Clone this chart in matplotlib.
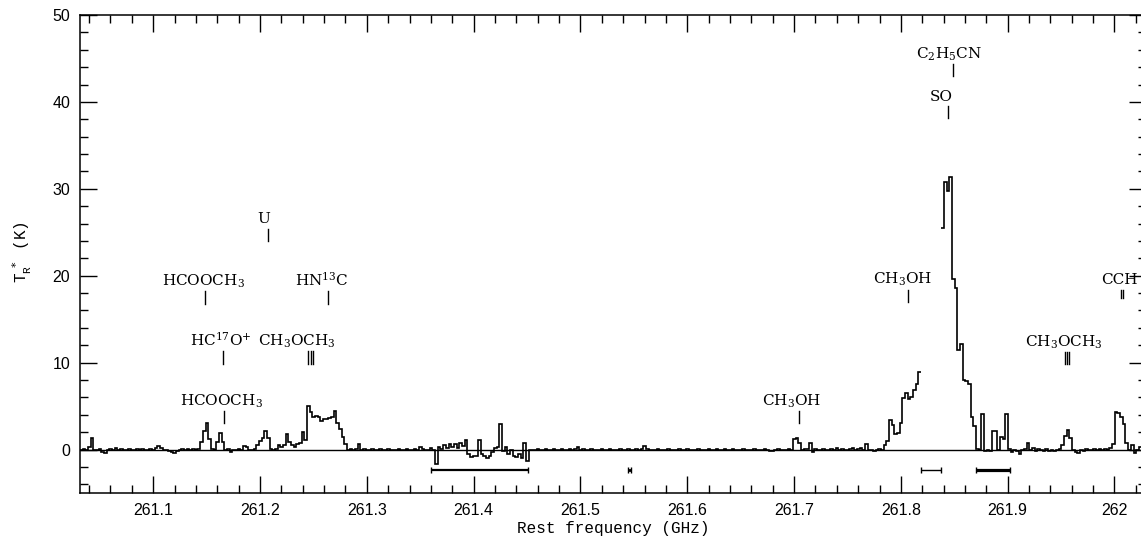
import numpy as np
import matplotlib
matplotlib.use("Agg")
import matplotlib.pyplot as plt
from matplotlib.ticker import MultipleLocator, FuncFormatter

# ---------------------------------------------------------------------------
# Spectrum data: two sub-bands sampled on 2.5 MHz channels (T_R* in K)
# ---------------------------------------------------------------------------
chan_width = 0.0025          # GHz
band1_start = 261.0315       # GHz, left edge of first channel
band2_start = 261.8378       # GHz

band1_temp = [
    0.0, 0.1, -0.1, 0.3, 1.3, 0.0, -0.1, 0.1, -0.3, -0.4,
    -0.1, 0.1, 0.0, 0.2, 0.0, 0.1, -0.1, 0.0, 0.1, 0.0,
    -0.1, 0.1, 0.0, 0.1, -0.1, 0.0, 0.1, -0.1, 0.2, 0.4,
    0.2, 0.0, -0.1, -0.2, -0.3, -0.4, -0.2, 0.0, 0.1, -0.1,
    0.1, 0.0, 0.1, 0.0, 0.1, 0.9, 2.1, 3.1, 1.2, 0.1,
    0.0, 0.9, 1.9, 0.9, 0.0, 0.1, -0.3, 0.0, -0.1, 0.1,
    0.0, 0.4, 0.3, 0.0, -0.1, 0.1, 0.5, 1.0, 1.3, 2.1,
    1.3, 0.1, 0.0, 0.1, 0.5, 0.3, 0.5, 1.8, 0.9, 0.5,
    0.3, 0.6, 0.8, 2.0, 1.1, 5.0, 4.3, 3.7, 3.9, 3.8,
    3.3, 3.5, 3.5, 3.6, 3.8, 4.4, 3.0, 2.4, 1.5, 0.6,
    0.0, 0.1, -0.1, 0.1, 0.6, 0.0, 0.1, -0.1, 0.0, 0.1,
    -0.1, 0.0, 0.1, 0.0, -0.1, 0.1, 0.0, -0.1, 0.0, 0.1,
    0.0, -0.1, 0.1, 0.0, 0.0, 0.1, 0.0, 0.3, 0.1, -0.1,
    0.0, 0.2, -0.1, -1.7, 0.3, 0.1, 0.5, 0.2, 0.6, 0.3,
    0.6, 0.2, 0.7, 0.4, 1.1, -0.5, -0.9, -0.8, -0.8, 1.1,
    -0.5, -0.8, -1.0, -0.8, -0.3, 0.2, 0.3, 2.9, -0.2, 0.3,
    -0.5, 0.0, -0.7, -0.9, -0.5, -1.0, 0.8, -1.3, 0.0, -0.1,
    0.0, 0.1, -0.1, 0.0, 0.1, 0.0, -0.1, 0.1, 0.0, 0.0,
    0.1, -0.1, 0.0, 0.1, 0.0, 0.1, 0.3, 0.0, 0.1, -0.1,
    0.0, 0.1, 0.0, -0.1, 0.0, 0.1, -0.1, 0.0, 0.1, 0.0,
    -0.1, 0.0, 0.1, 0.0, -0.1, 0.1, 0.0, 0.0, 0.1, -0.1,
    0.1, 0.4, 0.1, 0.0, -0.1, 0.0, 0.1, 0.0, -0.1, 0.0,
    0.1, 0.0, -0.1, 0.0, 0.1, -0.1, 0.0, 0.1, 0.0, -0.1,
    0.0, 0.1, 0.0, -0.1, 0.0, 0.1, 0.0, -0.1, 0.1, 0.0,
    0.0, 0.1, -0.1, 0.0, 0.1, 0.0, -0.1, 0.0, 0.1, 0.0,
    -0.1, 0.0, 0.1, 0.0, -0.1, 0.0, 0.1, -0.1, -0.2, -0.2,
    0.0, 0.1, 0.0, -0.1, 0.0, 0.1, 0.0, 1.2, 1.3, 0.7,
    0.0, 0.1, 0.1, 0.7, -0.3, 0.1, 0.0, -0.1, 0.1, 0.0,
    -0.1, 0.1, 0.0, 0.2, 0.0, 0.1, 0.0, -0.1, 0.1, 0.2,
    0.0, 0.1, 0.2, 0.0, 0.6, 0.0, -0.1, -0.2, 0.0, 0.1,
    -0.1, 0.5, 1.0, 3.4, 2.8, 1.8, 1.9, 3.0, 5.9, 6.5,
    5.8, 6.1, 6.8, 7.5, 8.9,
]

band2_temp = [
    25.5, 30.8, 29.8, 31.4, 19.6, 18.6, 11.5, 12.1, 8.0, 7.9,
    7.5, 3.7, 2.7, 0.1, -0.1, 4.1, -0.2, -0.1, -0.2, 2.1,
    2.1, 0.0, 1.5, 1.2, 4.1, 0.1, -0.3, 0.0, -0.2, -0.5,
    -0.1, 0.1, 0.7, 0.0, 0.2, -0.2, 0.1, -0.1, -0.2, 0.1,
    -0.2, 0.0, -0.2, 0.0, 0.1, 0.5, 1.6, 2.2, 1.3, -0.1,
    -0.3, -0.4, 0.0, -0.2, 0.1, -0.1, 0.0, 0.1, 0.0, 0.1,
    0.0, 0.1, 0.0, 0.2, 0.6, 4.3, 4.2, 3.8, 2.9, 0.8,
    -0.1, 0.5, -0.4, 0.0, 0.3, -0.1, 0.0,
]

# ---------------------------------------------------------------------------
# Line identifications: label, rest frequencies (GHz), top of marker (K)
# ---------------------------------------------------------------------------
species_names = [
    r"$\mathregular{HCOOCH_3}$",
    r"$\mathregular{HC^{17}O^{+}}$",
    r"$\mathregular{HCOOCH_3}$",
    "U",
    r"$\mathregular{HN^{13}C}$",
    r"$\mathregular{CH_3OCH_3}$",
    r"$\mathregular{CH_3OH}$",
    r"$\mathregular{CH_3OH}$",
    "SO",
    r"$\mathregular{C_2H_5CN}$",
    r"$\mathregular{CH_3OCH_3}$",
    "CCH",
]
species_freqs = [
    [261.1659],
    [261.1654],
    [261.1488],
    [261.2076],
    [261.2639],
    [261.2454, 261.2473, 261.2501],
    [261.7050],
    [261.8070],
    [261.8445],
    [261.8485],
    [261.9536, 261.9555, 261.9574],
    [262.0057, 262.0076],
]
species_marker_top = [4.4, 11.3, 18.2, 25.4, 18.2, 11.3, 4.4, 18.4, 39.5, 44.4, 11.2, 18.4]

# Frequency ranges flagged below the spectrum (GHz)
flag_ranges = [(261.3601, 261.4505), (261.5450, 261.5470), (261.8188, 261.8373), (261.8705, 261.9024)]
flag_level = -2.4

# ---------------------------------------------------------------------------
# Figure
# ---------------------------------------------------------------------------
W, H = 1141, 538
fig = plt.figure(figsize=(W / 100, H / 100), dpi=100)
ax = fig.add_axes([80 / W, (H - 493) / H, 1066 / W, 478 / H])

ax.set_xlim(261.0315, 262.0295)
ax.set_ylim(-5, 50)

lw = 1.2
b1 = np.asarray(band1_temp)
b2 = np.asarray(band2_temp)
e1 = band1_start + chan_width * np.arange(len(b1) + 1)
e2 = band2_start + chan_width * np.arange(len(b2) + 1)
ax.stairs(b1, e1, baseline=None, color="black", lw=lw)
ax.stairs(b2, e2, baseline=None, color="black", lw=lw)
ax.axhline(0, color="black", lw=1.0)

# flagged ranges
flag_widths = [1.6, 2.0, 1.0, 2.3]
for (lo, hi), w in zip(flag_ranges, flag_widths):
    ax.errorbar((lo + hi) / 2, flag_level, xerr=(hi - lo) / 2, fmt="none",
                ecolor="black", elinewidth=w, capsize=2.2, capthick=1.0)

# line identification markers and labels
text_dx_px = [-1.6, -2.7, -1.7, -4.4, -6.0, -13.6, -8.0, -6.0, -6.7, -3.7, -3.0, -2.7]
for name, freqs, top, dx in zip(species_names, species_freqs, species_marker_top, text_dx_px):
    length = 0.95 if name == "CCH" else 1.4
    for f in freqs:
        ax.plot([f, f], [top - length, top], color="black", lw=1.0)
    fc = float(np.mean(freqs))
    ax.annotate(name, xy=(fc, top), xytext=(dx * 0.72, 4.0), textcoords="offset points",
                ha="center", va="baseline", fontsize=11, family="DejaVu Serif")

# axes styling
for s in ax.spines.values():
    s.set_linewidth(1.1)
ax.xaxis.set_major_locator(MultipleLocator(0.1))
ax.xaxis.set_minor_locator(MultipleLocator(0.02))
ax.yaxis.set_major_locator(MultipleLocator(10))
ax.yaxis.set_minor_locator(MultipleLocator(2))
ax.xaxis.set_major_formatter(FuncFormatter(lambda v, p: "%g" % round(v, 1)))
ax.tick_params(which="both", direction="in", top=True, right=True, width=1.0)
ax.tick_params(which="major", length=12, pad=7)
ax.tick_params(which="minor", length=6)
for lab in ax.get_xticklabels() + ax.get_yticklabels():
    lab.set_fontfamily("Liberation Sans")
    lab.set_fontsize(11.5)

fig.text(613 / W, 1 - 529 / H, "Rest frequency (GHz)", ha="center", va="center",
         fontsize=11.5, family="Liberation Mono")
fig.text(22 / W, 1 - 252 / H, r"T$_\mathregular{R}^{\ *}$ (K)", ha="center", va="center",
         rotation=90, fontsize=11.5, family="Liberation Mono")

fig.savefig("out.png", dpi=100)
